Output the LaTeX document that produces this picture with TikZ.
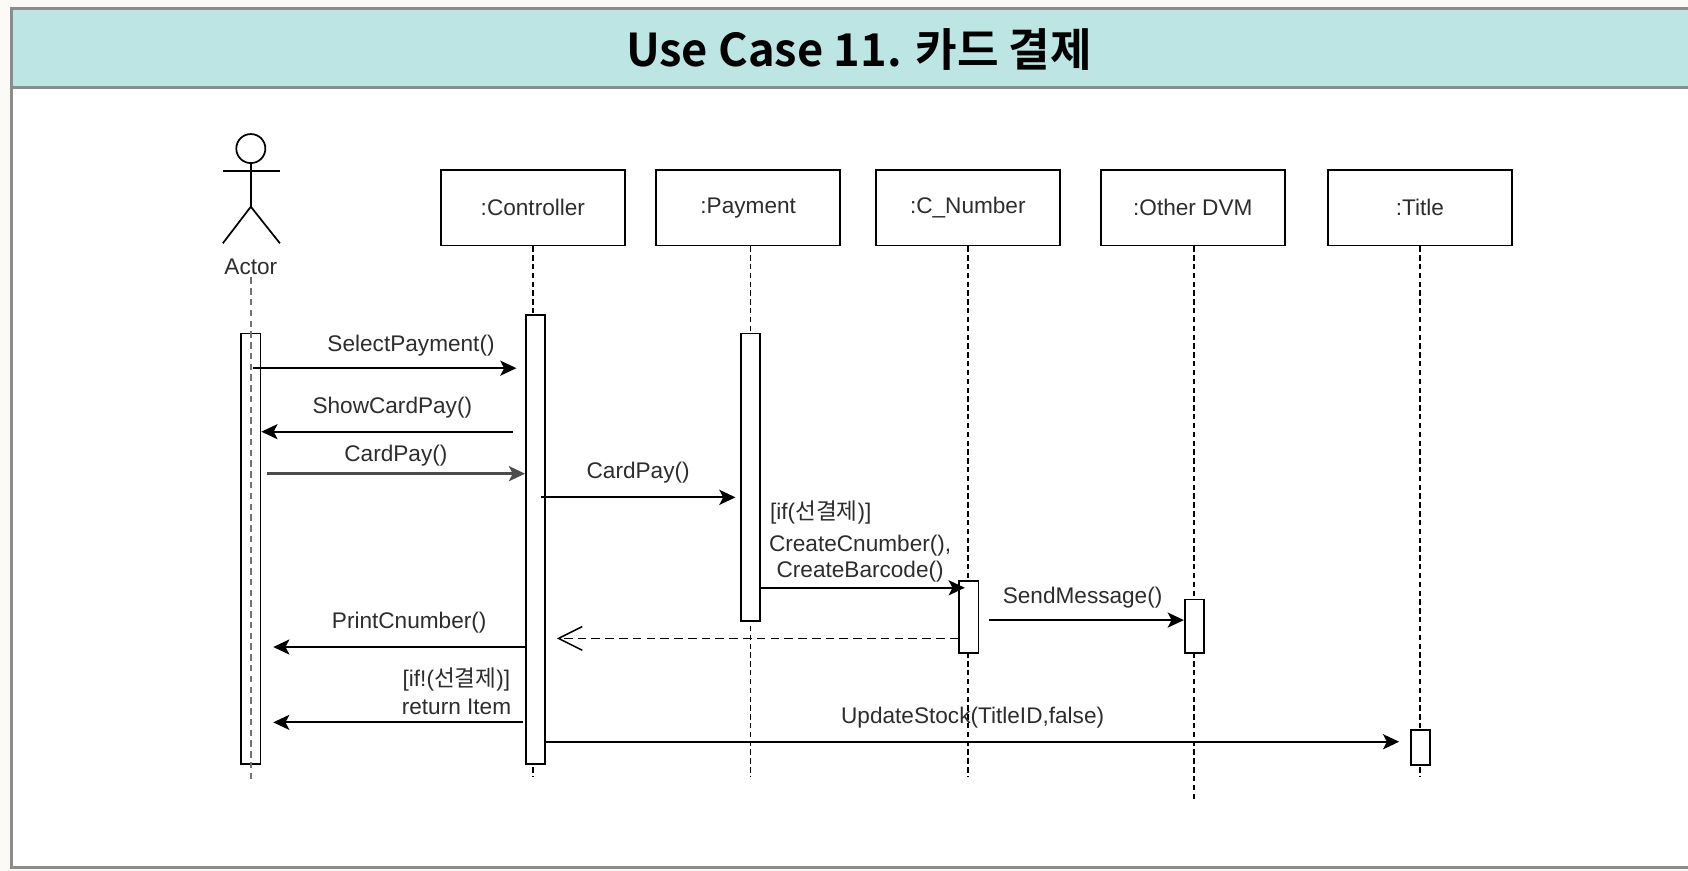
\documentclass[tikz,border=0pt]{standalone}
\usepackage{fontspec}
\setmainfont{Liberation Sans}
\newfontfamily\krfont{Noto Sans CJK KR}[BoldFont={Noto Sans CJK KR Bold}]
\usetikzlibrary{arrows.meta,calc}
\definecolor{bgc}{RGB}{252,250,246}
\definecolor{bandc}{RGB}{189,229,227}
\definecolor{framec}{RGB}{140,140,140}
\definecolor{txtc}{RGB}{45,45,45}
\begin{document}
\begin{tikzpicture}[x=0.5pt,y=-0.5pt,
  lbl/.style={font=\fontsize{10.5}{12.6}\selectfont, text=txtc, inner sep=1pt},
  objbox/.style={draw, line width=0.8pt, fill=white, minimum width=85.5pt, minimum height=35pt, inner sep=0pt, font=\fontsize{10.5}{12.6}\selectfont, text=txtc},
  actbar/.style={draw, line width=0.8pt, fill=white, minimum width=9pt, inner sep=0pt, anchor=north},
  lifeline/.style={line width=0.65pt, dash pattern=on 2.5pt off 1.6pt},
  msg/.style={line width=0.9pt, -{Stealth[length=7.5pt,width=7pt,inset=1.8pt]}},
  retmsg/.style={line width=0.7pt, dash pattern=on 4pt off 2.4pt, -{Straight Barb[length=11pt,width=11pt,line width=0.7pt]}}
]
\useasboundingbox (0,0) rectangle (1568,809);
\fill[bgc] (0,0) rectangle (1568,809);
% frame
\filldraw[fill=white, draw=framec, line width=1.4pt] (10.5,7.5) rectangle (1590,806);
\filldraw[fill=bandc, draw=framec, line width=1.4pt] (10.5,7.5) rectangle (1590,81);
\node[font=\krfont\bfseries\fontsize{21}{25}\selectfont, text=black] (title) at (798,46) {Use Case 11. 카드 결제};

% actor
\node[circle, draw, line width=0.8pt, minimum size=13.5pt, inner sep=0pt] (head) at (233,138) {};
\coordinate (hip) at (233,192);
\draw[line width=0.8pt] (head.south) -- (hip);
\draw[line width=0.8pt] (207,159) -- (260,159);
\draw[line width=0.8pt] (207,226) -- (hip) -- (260,226);
\node[lbl] (actorlbl) at (233,248) {Actor};

% object boxes
\node[objbox] (ctrl) at (495,193) {:Controller};
\node[objbox] (pay)  at (695,193) {:Payment};
\node[objbox] (cnum) at (899,193) {:C\_Number};
\node[objbox] (odvm) at (1108,193) {:Other DVM};
\node[objbox] (ttl)  at (1319,193) {:Title};

% lifeline ends
\coordinate (actend) at (233,727);
\coordinate (ctrlend) at (495,722);
\coordinate (payend) at (697,722);
\coordinate (cnumend) at (899,722);
\coordinate (odvmend) at (1109,742);
\coordinate (ttlend) at (1319,721);

\draw[lifeline] (ctrl.south) -- (ctrlend);
\draw[lifeline] ($(pay.south)+(2,0)$) -- (payend);
\draw[lifeline] (cnum.south) -- (cnumend);
\draw[lifeline] ($(odvm.south)+(1,0)$) -- (odvmend);
\draw[lifeline] (ttl.south) -- (ttlend);

% activation bars
\node[actbar, minimum height=200pt] (abar) at (233,309) {};
\draw[line width=1pt, draw=black!55, dash pattern=on 3pt off 2pt] (actorlbl.south) -- (actend);
\node[actbar, minimum height=208.5pt] (cbar) at (497.5,292) {};
\node[actbar, minimum height=133.5pt] (pbar) at (697,309) {};
\node[actbar, minimum height=33.5pt] (nbar) at (900,539) {};
\node[actbar, minimum height=25pt] (obar) at (1109.5,556) {};
\node[actbar, minimum height=16.5pt] (tbar) at (1319.5,677) {};

% messages
\draw[msg] ($(abar.center |- 0,342)+(2,0)$) -- ($(cbar.west |- 0,342)+(-8,0)$)
  node[lbl, pos=0.6, above=4pt] (m1) {SelectPayment()};
\draw[msg] ($(cbar.west |- 0,401)+(-11,0)$) -- (abar.east |- 0,401)
  node[lbl, pos=0.48, above=5pt] (m2) {ShowCardPay()};
\draw[msg, draw=black!70, line width=1.2pt] ($(abar.east |- 0,440)+(5,0)$) -- (cbar.west |- 0,440)
  node[lbl, pos=0.5, above=2pt] (m3) {CardPay()};
\draw[msg] ($(cbar.east |- 0,462)+(-5,0)$) -- ($(pbar.west |- 0,462)+(-4,0)$)
  node[lbl, pos=0.5, above=5pt] (m4) {CardPay()};
\draw[msg] (pbar.east |- 0,546) -- ($(nbar.west |- 0,546)+(6,0)$);
\node[lbl, anchor=west] (m5a) at (713,476) {[if({\krfont 선결제})]};
\node[lbl, align=center, font=\fontsize{10.5}{11.8}\selectfont] (m5b) at (799,519) {CreateCnumber(),\\CreateBarcode()};
\draw[msg] ($(nbar.east |- 0,576)+(9,0)$) -- (obar.west |- 0,576)
  node[lbl, pos=0.48, above=4pt] (m6) {SendMessage()};
\draw[retmsg] (nbar.west |- 0,593) -- ($(cbar.east |- 0,593)+(10,0)$);
\draw[msg] (cbar.west |- 0,601) -- ($(abar.east |- 0,601)+(11,0)$)
  node[lbl, pos=0.46, above=5pt] (m7) {PrintCnumber()};
\draw[msg] ($(cbar.west |- 0,671)+(-2,0)$) -- ($(abar.east |- 0,671)+(11,0)$);
\node[lbl, align=center, font=\fontsize{10.5}{13}\selectfont] (m8) at (424,642) {[if!({\krfont 선결제})]\\return Item};
\draw[msg] (cbar.east |- 0,689) -- ($(tbar.west |- 0,689)+(-10,0)$)
  node[lbl, pos=0.5, above=5pt] (m9) {UpdateStock(TitleID,false)};
\end{tikzpicture}
\end{document}
